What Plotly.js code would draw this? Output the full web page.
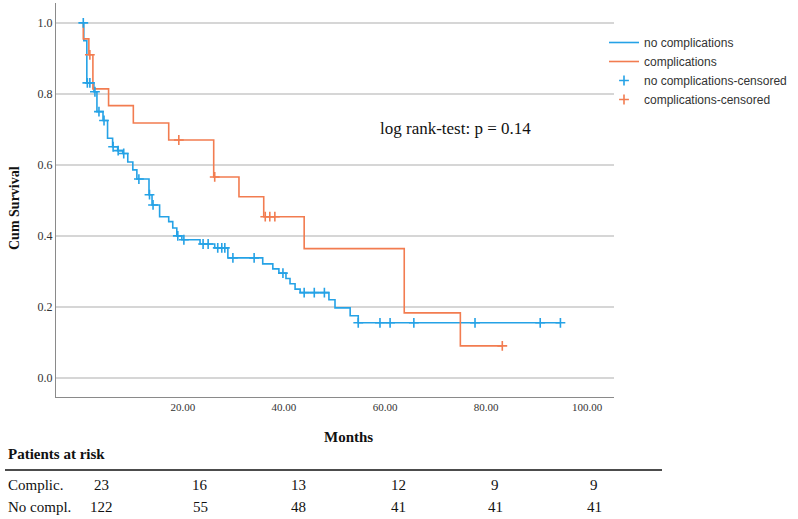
<!DOCTYPE html>
<html><head><meta charset="utf-8">
<script src="https://cdn.plot.ly/plotly-3.0.1.min.js"></script>
<style>html,body{margin:0;padding:0;background:#fff}#chart{width:798px;height:519px}</style>
</head><body><div id="chart"></div>
<script>
// ---- data ----
const blueTime = [0, 0.4, 1.0, 2.4, 3.0, 4.2, 5.1, 6.1, 7.1, 8.1, 9.1, 10.1, 10.9, 13.3, 13.9, 15.4, 17.2, 18.0, 18.8, 19.8, 23.4, 26.3, 28.9, 35.8, 37.8, 39.0, 40.4, 41.2, 42.2, 43.2, 48.9, 50.1, 53.1, 54.7, 94.7];
const blueSurv = [1.0, 0.950, 0.831, 0.806, 0.750, 0.725, 0.675, 0.651, 0.640, 0.632, 0.608, 0.586, 0.560, 0.516, 0.487, 0.454, 0.440, 0.422, 0.400, 0.389, 0.377, 0.366, 0.338, 0.321, 0.307, 0.295, 0.280, 0.265, 0.250, 0.240, 0.220, 0.197, 0.175, 0.155, 0.155];
const blueCensTime = [0.3, 1.1, 1.6, 2.6, 3.4, 4.4, 6.2, 7.2, 8.3, 11.3, 13.4, 14.1, 19.0, 20.2, 24.0, 25.0, 26.9, 27.7, 28.3, 29.9, 34.1, 39.8, 44.0, 46.0, 48.0, 54.7, 59.0, 61.0, 65.7, 77.8, 90.7, 94.7];
const blueCensSurv = [1.0, 0.831, 0.831, 0.806, 0.750, 0.725, 0.651, 0.640, 0.632, 0.560, 0.516, 0.487, 0.400, 0.389, 0.377, 0.377, 0.366, 0.366, 0.366, 0.338, 0.338, 0.295, 0.240, 0.240, 0.240, 0.155, 0.155, 0.155, 0.155, 0.155, 0.155, 0.155];
const orangeTime = [0, 0.3, 1.4, 2.2, 5.3, 10.2, 17.2, 26.1, 31.1, 36.0, 44.0, 63.8, 74.9, 83.2];
const orangeSurv = [1.0, 0.955, 0.910, 0.814, 0.767, 0.718, 0.670, 0.566, 0.510, 0.454, 0.364, 0.183, 0.090, 0.090];
const orangeCensTime = [1.6, 19.2, 26.3, 36.3, 37.2, 38.2, 83.2];
const orangeCensSurv = [0.910, 0.670, 0.566, 0.454, 0.454, 0.454, 0.090];
const xTickVals = [20, 40, 60, 80, 100];
const yTickVals = [0, 0.2, 0.4, 0.6, 0.8, 1.0];
const riskRowLabels = ['Complic.', 'No compl.'];
const riskComplic = [23, 16, 13, 12, 9, 9];
const riskNoCompl = [122, 55, 48, 41, 41, 41];
const seriesNames = ['no complications', 'complications', 'no complications-censored', 'complications-censored'];

// ---- layout helpers ----
const L = 56, R = 614, T = 3, B = 397;
const px2x = px => (px - L) / (R - L);
const py2y = py => (B - py) / (B - T);
const blue = '#25a2e6', orange = '#f27c50';
const serif = 'Liberation Serif, Times New Roman, serif';
const sans = 'Liberation Sans, Arial, sans-serif';

const traces = [
  {x: blueTime, y: blueSurv, name: seriesNames[0], mode: 'lines', line: {shape: 'hv', color: blue, width: 1.6}},
  {x: orangeTime, y: orangeSurv, name: seriesNames[1], mode: 'lines', line: {shape: 'hv', color: orange, width: 1.6}},
  {x: blueCensTime, y: blueCensSurv, name: seriesNames[2], mode: 'markers', marker: {symbol: 'cross-thin', size: 7, color: blue, line: {color: blue, width: 1.6}}},
  {x: orangeCensTime, y: orangeCensSurv, name: seriesNames[3], mode: 'markers', marker: {symbol: 'cross-thin', size: 7, color: orange, line: {color: orange, width: 1.6}}}
];

function ann(text, px, py, size, extra) {
  return Object.assign({text: text, xref: 'paper', yref: 'paper', x: px2x(px), y: py2y(py), xanchor: 'center', yanchor: 'middle', showarrow: false, font: {family: serif, size: size, color: '#111'}}, extra || {});
}
const colPx = [101, 200, 298, 398, 495, 594];
const annotations = [
  ann('log rank-test: p = 0.14', 455, 128, 17),
  ann('<b>Cum Survival</b>', 14, 208, 14, {textangle: -90}),
  ann('<b>Months</b>', 348, 437, 15),
  ann('<b>Patients at risk</b>', 6, 454, 15, {xanchor: 'left'})
];
const rowsPy = [485, 507];
[riskComplic, riskNoCompl].forEach((row, r) => {
  annotations.push(ann(riskRowLabels[r], 6, rowsPy[r], 15, {xanchor: 'left'}));
  row.forEach((v, i) => annotations.push(ann(String(v), colPx[i], rowsPy[r], 15)));
});

const layout = {
  width: 798, height: 519,
  margin: {l: L, r: 798 - R, t: T, b: 519 - B},
  paper_bgcolor: '#fff', plot_bgcolor: '#fff',
  showlegend: true,
  legend: {x: px2x(604), y: py2y(28), xanchor: 'left', yanchor: 'top', bgcolor: 'rgba(0,0,0,0)', font: {family: sans, size: 12, color: '#333'}, itemwidth: 30, tracegroupgap: 0},
  xaxis: {range: [-5.1, 105.3], tickvals: xTickVals, tickformat: '.2f', showgrid: false, zeroline: false, showline: true, linecolor: '#8a8a8a', linewidth: 1, ticks: '', tickfont: {family: serif, size: 11, color: '#333'}, fixedrange: true},
  yaxis: {range: [-0.054, 1.056], tickvals: yTickVals, tickformat: '.1f', showgrid: true, gridcolor: '#d6d6d6', gridwidth: 1.5, zeroline: false, showline: true, linecolor: '#8a8a8a', linewidth: 1, ticks: '', tickfont: {family: serif, size: 12, color: '#333'}, fixedrange: true},
  annotations: annotations,
  shapes: [{type: 'line', xref: 'paper', yref: 'paper', x0: px2x(5), x1: px2x(662), y0: py2y(470), y1: py2y(470), line: {color: '#111', width: 1.5}}]
};
Plotly.newPlot('chart', traces, layout, {displayModeBar: false, staticPlot: true});
</script>
</body></html>
